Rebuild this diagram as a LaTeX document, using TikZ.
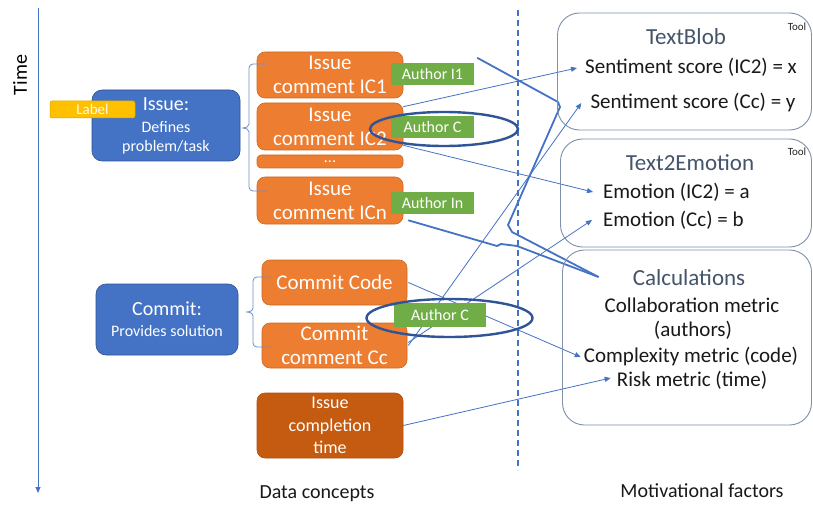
\documentclass[tikz,border=0pt]{standalone}
\usepackage{fontspec}
\setmainfont{Carlito}
\usetikzlibrary{arrows.meta,calc,backgrounds,shapes.geometric}

\definecolor{bl}{HTML}{4472C4}
\definecolor{bldk}{HTML}{2F5597}
\definecolor{blbd}{HTML}{2F528F}
\definecolor{org}{HTML}{ED7D31}
\definecolor{orgbd}{HTML}{D0691F}
\definecolor{orgdk}{HTML}{C55A11}
\definecolor{grn}{HTML}{70AD47}
\definecolor{yel}{HTML}{FFC000}
\definecolor{yelbd}{HTML}{D9A300}
\definecolor{slate}{HTML}{44546A}
\definecolor{boxbd}{HTML}{7F90AA}
\definecolor{bracec}{HTML}{6F8FCB}

\tikzset{
  x=1pt, y=1pt,
  bluebox/.style={rounded corners=10pt, fill=bl, draw=blbd, line width=0.6pt, text=white, align=center, inner sep=0pt},
  orangebox/.style={rounded corners=8pt, fill=org, draw=orgbd, line width=0.6pt, text=white, align=center, inner sep=0pt, minimum width=146pt, font=\fontsize{21}{24}\selectfont},
  greenbox/.style={fill=grn, draw=none, text=white, minimum width=83pt, minimum height=22pt, inner sep=0pt, font=\fontsize{16}{18}\selectfont},
  toolbox/.style={draw=boxbd, line width=0.9pt, rounded corners=22pt, inner sep=0pt},
  ttl/.style={text=slate, font=\fontsize{23}{26}\selectfont, inner sep=0pt},
  item/.style={text=black!90, font=\fontsize{21}{24}\selectfont, inner sep=0pt},
  tooltag/.style={text=black!85, font=\fontsize{11}{13}\selectfont, inner sep=0pt},
  foot/.style={text=black!90, font=\fontsize{20}{24}\selectfont, inner sep=0pt},
  conn/.style={draw=bl, line width=0.8pt},
  arr/.style={conn, -{Triangle[length=6pt,width=5pt]}},
  thickconn/.style={draw=bl, line width=1.8pt, line join=round},
  ring/.style={draw=bldk, line width=2.4pt, ellipse, inner sep=0pt},
  bracepath/.style={draw=bracec, line width=0.8pt},
}

\begin{document}
\begin{tikzpicture}
\useasboundingbox (0,0) rectangle (813,-505);

% Time axis
\coordinate (ttop) at (38,-8);
\coordinate (tbot) at (38,-493);
\node[rotate=90, font=\fontsize{20}{24}\selectfont, inner sep=0pt] (time) at (20,-75) {Time};

% Left blue boxes
\node[bluebox, minimum width=148pt, minimum height=71pt, font=\fontsize{16}{19}\selectfont] (issue) at (166,-125.5)
  {{\fontsize{20}{22}\selectfont Issue:}\\[3pt]Defines\\problem/task};
\node[fill=yel, draw=yelbd, line width=0.5pt, rounded corners=2pt, minimum width=85pt, minimum height=17pt, inner sep=0pt,
  text=white!92!yel, font=\fontsize{15}{17}\selectfont] (lbl) at (92.5,-109.5) {Label};
\node[bluebox, minimum width=142pt, minimum height=71pt, font=\fontsize{16}{19}\selectfont] (commit) at (167,-319.5)
  {{\fontsize{20}{22}\selectfont Commit:}\\[2pt]Provides solution};

% Orange boxes
\node[orangebox, minimum height=46pt] (ic1) at (330,-75) {Issue\\comment IC1};
\node[orangebox, minimum height=47pt] (ic2) at (330,-126.5) {Issue\\comment IC2};
\node[orangebox, minimum height=13pt, rounded corners=4pt, font=\fontsize{16}{18}\selectfont] (dots) at (330,-161.5) {...};
\node[orangebox, minimum height=47pt] (icn) at (330,-200.5) {Issue\\comment ICn};
\node[orangebox, minimum width=145pt, minimum height=45pt] (commitcode) at (334.5,-282.5) {Commit Code};
\node[orangebox, minimum width=145pt, minimum height=45pt] (commitcc) at (334.5,-345.5) {Commit\\comment Cc};
\node[orangebox, fill=orgdk, draw=orgdk!90!black, minimum height=65pt, font=\fontsize{18}{22.5}\selectfont] (ict) at (330,-425.5) {Issue\\completion\\time};

% Green author boxes
\node[greenbox] (authI1) at (432.5,-74) {Author I1};
\node[greenbox] (authC1) at (432.5,-127) {Author C};
\node[greenbox] (authIn) at (432.5,-203) {Author In};
\node[greenbox, minimum width=92pt, minimum height=24pt] (authC2) at (440,-315) {Author C};

% Right tool boxes
\node[toolbox, minimum width=254pt, minimum height=117pt] (tb) at (684.5,-71.5) {};
\node[toolbox, minimum width=251pt, minimum height=108pt] (te) at (686,-193) {};
\node[toolbox, minimum width=249pt, minimum height=175pt] (calc) at (687,-337.5) {};

\node[tooltag] (tool1) at (797,-27) {Tool};
\node[ttl] (title1) at (686,-37) {TextBlob};
\node[item] (s1) at (691,-67) {Sentiment score (IC2) = x};
\node[item] (s2) at (693,-103) {Sentiment score (Cc) = y};

\node[tooltag] (tool2) at (797,-152) {Tool};
\node[ttl] (title2) at (690,-163) {Text2Emotion};
\node[item, anchor=west] (e1) at (603,-192) {Emotion (IC2) = a};
\node[item, anchor=west] (e2) at (603,-220) {Emotion (Cc) = b};

\node[ttl] (title3) at (689,-278) {Calculations};
\node[item] (c1) at (692,-305) {Collaboration metric};
\node[item] (c2) at (693,-330) {(authors)};
\node[item] (c3) at (691,-357) {Complexity metric (code)};
\node[item] (c4) at (692,-380) {Risk metric (time)};

% Footer labels
\node[foot] (dc) at (317,-494) {Data concepts};
\node[foot] (mf) at (702,-491) {Motivational factors};

% Divider
\coordinate (dtop) at (518,-10);
\coordinate (dbot) at (518,-470);

\coordinate (collab) at ($(title3.west)+(-34,1)$);

\begin{scope}[on background layer]
  \fill[white] (0,0) rectangle (813,-505);
  \draw[arr] (ttop) -- (tbot);
  \draw[draw=bl, line width=1.5pt, dash pattern=on 6pt off 4pt] (dtop) -- (dbot);
  % thin arrows
  \draw[arr] ($(ic2.north east)+(0,-4)$) -- ($(s1.west)+(-8,-1)$);
  \draw[arr] ($(ic2.south east)+(0,5)$) -- ($(e1.west)+(-10,0)$);
  \draw[arr] ($(commitcode.east)+(1,0)$) -- ($(c3.west)+(-3,0)$);
  \draw[arr] ($(commitcc.east)+(1,0)$) -- ($(s2.west)+(-9,0)$);
  \draw[arr] ($(commitcc.east)+(1,3)$) -- ($(e2.west)+(-11,0)$);
  \draw[arr] (ict.east) -- ($(c4.west)+(-6,2)$);
  % thick lines
  \draw[thickconn] ($(authI1.north east)+(3,5)$) -- (558,-102) -- (560,-107) -- (508,-225) -- (512,-232) -- (collab);
  \draw[thickconn] ($(icn.south east)+(5,4)$) -- (497,-246) -- (501,-244) -- (517,-246) -- (collab);
\end{scope}

% Braces
\draw[bracepath] (267,-64) -- (253,-64) to[out=180,in=90] (249,-68) -- (249,-124)
  to[out=-90,in=0] (243,-128) to[out=0,in=90] (249,-132) -- (249,-187)
  to[out=-90,in=180] (253,-191) -- (267,-191);
\draw[bracepath] (270,-277) -- (257,-277) to[out=180,in=90] (253,-281) -- (253,-308)
  to[out=-90,in=0] (246,-312) to[out=0,in=90] (253,-316) -- (253,-343)
  to[out=-90,in=180] (257,-347) -- (270,-347);

% Ellipses around Author C
\node[ring, minimum width=148pt, minimum height=34pt] (ring1) at (444,-129) {};
\node[ring, minimum width=166pt, minimum height=38pt] (ring2) at (449.5,-318) {};
\end{tikzpicture}
\end{document}
